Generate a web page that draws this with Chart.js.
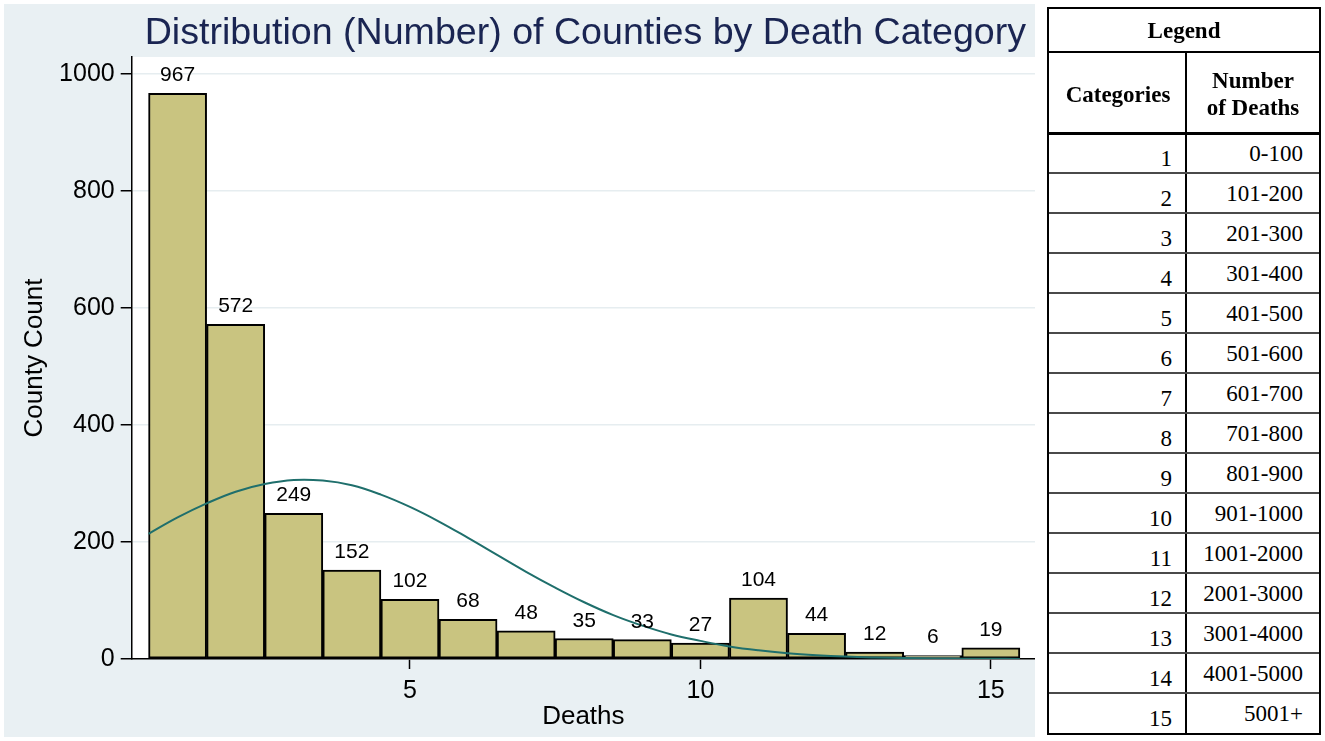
<!DOCTYPE html>
<html><head><meta charset="utf-8">
<script src="https://cdn.jsdelivr.net/npm/chart.js@4.4.1/dist/chart.umd.min.js"></script>
<style>
html,body{margin:0;padding:0;background:#fff;width:1325px;height:741px;overflow:hidden;position:relative;}
#chartBox{position:absolute;left:4px;top:4px;width:1031px;height:733px;background:#e9f0f3;}
.lg{position:absolute;font-family:"Liberation Serif","Times New Roman",serif;color:#000;white-space:nowrap;}
.ln{position:absolute;}
</style></head>
<body>
<div id="chartBox"><canvas id="c"></canvas></div>
<div id="legend"></div>
<script>
// ---- data ----
const categories = [1,2,3,4,5,6,7,8,9,10,11,12,13,14,15];
const countyCounts = [967,572,249,152,102,68,48,35,33,27,104,44,12,6,19];
const curveX = [0.5,1,1.5,2,2.5,3,3.5,4,4.5,5,5.5,6,6.5,7,7.5,8,8.5,9,9.5,10,10.5,11,11.5,12,12.5,13,13.5,14,14.5,15,15.5];
const curveY = [214,242,266,286,299,306,305,297,281,260,235,207,178,149,122,97,75,57,42,31,21.5,14.8,9.9,6.5,4.1,2.6,1.6,0.9,0.5,0.3,0.2];
const yTickValues = [0,200,400,600,800,1000];
const xTickValues = [5,10,15];
const deathRanges = ['0-100','101-200','201-300','301-400','401-500','501-600','601-700','701-800','801-900','901-1000','1001-2000','2001-3000','3001-4000','4001-5000','5001+'];
const chartTitle = 'Distribution (Number) of Counties by Death Category';
const legendTitle = 'Legend';
const colHeader1 = ['Categories'];
const colHeader2 = ['Number','of Deaths'];

const FAM = '"Liberation Sans", Arial, sans-serif';

const plotBg = {id:'plotBg', beforeDraw(chart){
  const {ctx, chartArea:a} = chart;
  ctx.save(); ctx.fillStyle = '#ffffff';
  ctx.fillRect(a.left, a.top, a.right - a.left, a.bottom - a.top);
  ctx.restore();
}};
const titlePlugin = {id:'titleP', afterDraw(chart){
  const {ctx, chartArea:a} = chart;
  ctx.save();
  ctx.font = '37.6px ' + FAM; ctx.fillStyle = '#1a2552';
  ctx.textAlign = 'center'; ctx.textBaseline = 'alphabetic';
  ctx.fillText(chartTitle, (a.left + a.right) / 2 + 2, 40);
  ctx.restore();
}};
const barLabels = {id:'barLabels', afterDatasetsDraw(chart){
  const {ctx} = chart;
  const meta = chart.getDatasetMeta(0);
  ctx.save();
  ctx.font = '21px ' + FAM; ctx.fillStyle = '#000';
  ctx.textAlign = 'center'; ctx.textBaseline = 'alphabetic';
  meta.data.forEach((bar, i) => { ctx.fillText(String(countyCounts[i]), bar.x, bar.y - 12); });
  ctx.restore();
}};

new Chart(document.getElementById('c'), {
  type: 'bar',
  data: { datasets: [
    { type:'bar', data: categories.map((c,i)=>({x:c, y:countyCounts[i]})),
      backgroundColor:'#c9c480', borderColor:'#000', borderWidth:2, borderSkipped:false,
      barPercentage:1, categoryPercentage:1, order:1 },
    { type:'line', data: curveX.map((x,i)=>({x:x, y:curveY[i]})),
      borderColor:'#1f6f6c', borderWidth:2, pointRadius:0, fill:false,
      tension:0.4, order:0 }
  ]},
  options: {
    responsive:true, maintainAspectRatio:false, animation:false,
    layout:{padding:{top:53, left:0, right:0, bottom:0}},
    plugins:{legend:{display:false}, tooltip:{enabled:false}, title:{display:false}},
    scales:{
      x:{ type:'linear', min:0.21, max:15.76, offset:false,
        grid:{display:true, drawOnChartArea:false, drawTicks:true, tickLength:10, tickColor:'#000', tickWidth:1.5, offset:false},
        border:{display:true, color:'#000', width:1.5},
        ticks:{font:{size:25, family:FAM}, color:'#000', padding:7.5, autoSkip:false, maxRotation:0, callback:v=>String(v)},
        afterBuildTicks(s){ s.ticks = xTickValues.map(v=>({value:v})); },
        afterFit(s){ s.height = 78; },
        title:{display:true, text:'Deaths', font:{size:26, family:FAM}, color:'#000', padding:{top:0, bottom:4.8}}
      },
      y:{ min:0, max:1029,
        grid:{color:'#e6edf0', lineWidth:1.5, tickLength:11, tickColor:'#000', tickWidth:1.5},
        border:{display:true, color:'#000', width:1.5},
        ticks:{font:{size:25, family:FAM}, color:'#000', padding:6, callback:v=>String(v)},
        afterBuildTicks(s){ s.ticks = yTickValues.map(v=>({value:v})); },
        afterFit(s){ s.width = 127.7; },
        title:{display:true, text:'County Count', font:{size:26, family:FAM}, color:'#000', padding:{top:15, bottom:0}}
      }
    }
  },
  plugins:[plotBg, barLabels, titlePlugin]
});

// ---- legend table (HTML text) ----
const L = document.getElementById('legend');
function line(x,y,w,h,color){ const d=document.createElement('div'); d.className='ln';
  Object.assign(d.style,{left:x+'px',top:y+'px',width:w+'px',height:h+'px',background:color}); L.appendChild(d); }
function text(t,opts){ const d=document.createElement('div'); d.className='lg'; d.textContent=t;
  const size=opts.size||23; d.style.fontSize=size+'px'; d.style.lineHeight=size+'px';
  if(opts.bold) d.style.fontWeight='bold';
  d.style.top=(opts.baseline - 0.8375*size)+'px';
  if(opts.align==='right'){ d.style.right=(1325-opts.x)+'px'; d.style.textAlign='right'; }
  else { d.style.left=(opts.x-150)+'px'; d.style.width='300px'; d.style.textAlign='center'; }
  L.appendChild(d); }
// outer border
line(1047,7,2,728,'#000'); line(1319,7,2,728,'#000');
line(1047,7,274,2,'#000'); line(1047,733,274,2,'#000');
line(1047,51,274,2,'#000');
line(1047,132,274,3,'#000');
line(1185,52,2,682,'#000');
for(let k=1;k<categories.length;k++){ line(1049, Math.round(133.3+40*k)-1, 270, 2, '#4a4a4a'); }
text(legendTitle,{x:1184,baseline:38,bold:true,size:23});
text(colHeader1[0],{x:1118,baseline:102,bold:true,size:23});
text(colHeader2[0],{x:1253,baseline:88,bold:true,size:23});
text(colHeader2[1],{x:1253,baseline:115,bold:true,size:23});
categories.forEach((c,k)=>{
  const top=133.3+40*k;
  text(String(c),{x:1172,baseline:top+33,align:'right',size:23});
  text(deathRanges[k],{x:1303,baseline:top+27.5,align:'right',size:23});
});
</script>
</body></html>
